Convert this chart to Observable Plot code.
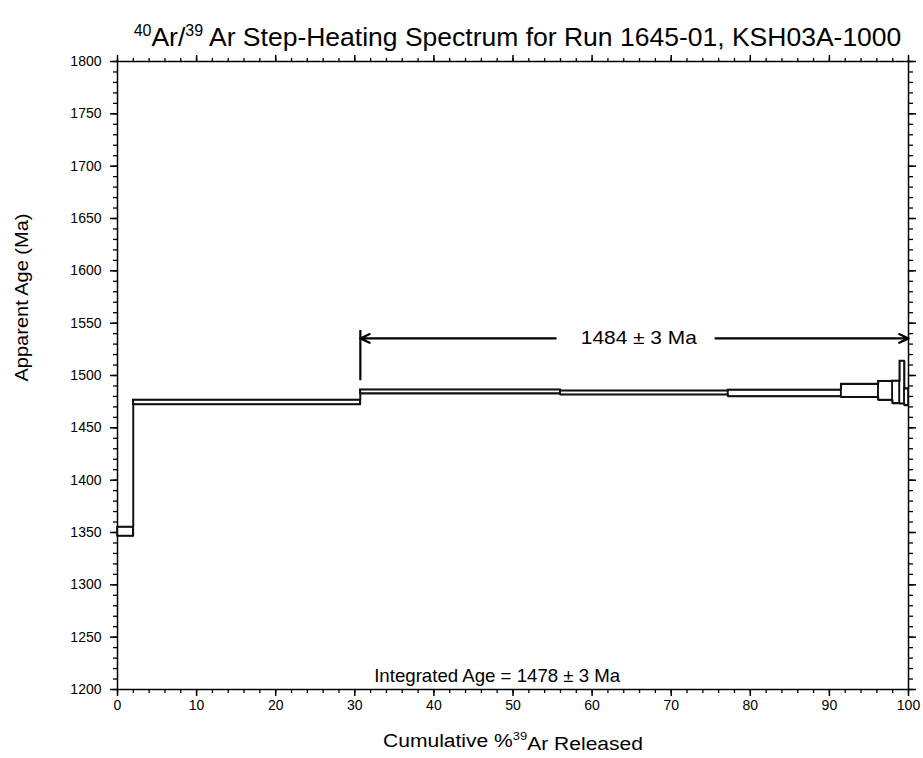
<!DOCTYPE html>
<html>
<head>
<meta charset="utf-8">
<script src="https://cdn.jsdelivr.net/npm/d3@7"></script>
<script src="https://cdn.jsdelivr.net/npm/@observablehq/plot@0.6"></script>
<style>
  html, body { margin: 0; padding: 0; background: #fff; }
  #wrap { width: 923px; height: 758px; overflow: hidden; font-family: "Liberation Sans", Arial, sans-serif; }
  #title { height: 50px; box-sizing: border-box; padding-top: 23px; margin-left: 122px; width: 791px;
           text-align: center; font-size: 26.5px; line-height: 28px; color: #000; white-space: nowrap; }
  #title sup { font-size: 16px; vertical-align: 10px; line-height: 0; }
</style>
</head>
<body>
<div id="wrap">
  <div id="title"><sup>40</sup>Ar/<sup>39</sup> Ar Step-Heating Spectrum for Run 1645-01, KSH03A-1000</div>
  <div id="chart"></div>
</div>
<script>
// Step boundaries (cumulative % 39Ar released)
const cumulativeBounds = [0, 2.0, 30.7, 56.0, 77.2, 91.5, 96.2, 98.0, 98.9, 99.5, 100];
// Upper and lower apparent ages of each step (Ma)
const ageUpper = [1355.2, 1476.6, 1486.4, 1485.4, 1486.2, 1491.8, 1494.5, 1494.8, 1513.8, 1487.5];
const ageLower = [1346.6, 1472.3, 1482.7, 1481.6, 1480.0, 1479.2, 1476.5, 1473.4, 1473.0, 1471.5];

// Plateau marker
const plateauStart = [30.7];
const plateauEnd = [100];
const plateauLevel = [1535.4];
const plateauBar = [1495, 1543];
const plateauGap = [55.4, 75.6];
const plateauLabel = ["1484 ± 3 Ma"];
const plateauLabelX = [65.9];

// Integrated age
const integratedLabel = ["Integrated Age = 1478 ± 3 Ma"];
const integratedX = [48.0];
const integratedY = [1213];

// Axes
const xMajorTicks = [0, 10, 20, 30, 40, 50, 60, 70, 80, 90, 100];
const xMinorTicks = d3.range(0, 101, 2);
const yMajorTicks = [1200, 1250, 1300, 1350, 1400, 1450, 1500, 1550, 1600, 1650, 1700, 1750, 1800];
const yMinorTicks = d3.range(1200, 1801, 10);
const xDomain = [0, 100];
const yDomain = [1200, 1800];
const xLabelParts = ["Cumulative %", "39", "Ar Released"];
const xLabel = [xLabelParts.join("")];
const yLabel = ["Apparent Age (Ma)"];

const n = ageUpper.length;
const upperLine = cumulativeBounds.map((x, i) => ({x, y: ageUpper[Math.min(i, n - 1)]}));
const lowerLine = cumulativeBounds.map((x, i) => ({x, y: ageLower[Math.min(i, n - 1)]}));
const stepBoxes = ageUpper.map((u, i) => ({x1: cumulativeBounds[i], x2: cumulativeBounds[i + 1], y1: ageLower[i], y2: u}));

const arrows = [
  {x1: plateauGap[0], x2: plateauStart[0], y: plateauLevel[0]},
  {x1: plateauGap[1], x2: plateauEnd[0], y: plateauLevel[0]}
];

const blank = () => "";
const chart = Plot.plot({
  width: 923,
  height: 708,
  marginLeft: 117,
  marginRight: 15,
  marginTop: 11,
  marginBottom: 69,
  style: {fontFamily: "'Liberation Sans', Arial, sans-serif", color: "#000", background: "#fff"},
  x: {domain: xDomain},
  y: {domain: yDomain},
  marks: [
    Plot.frame({stroke: "#000", strokeWidth: 1.5}),
    // bottom axis
    Plot.axisX({anchor: "bottom", ticks: xMajorTicks, tickSize: 7, tickPadding: 4, fontSize: 14,
      tickFormat: d => String(d), label: null, strokeWidth: 1.5}),
    Plot.axisX({anchor: "bottom", ticks: xMinorTicks, tickSize: 4, tickFormat: blank, label: null, strokeWidth: 1.3}),
    // top axis
    Plot.axisX({anchor: "top", ticks: xMajorTicks, tickSize: 7, tickFormat: blank, label: null, strokeWidth: 1.5}),
    Plot.axisX({anchor: "top", ticks: xMinorTicks, tickSize: 4, tickFormat: blank, label: null, strokeWidth: 1.3}),
    // left axis
    Plot.axisY({anchor: "left", ticks: yMajorTicks, tickSize: 7, tickPadding: 9, fontSize: 14,
      tickFormat: d => String(d), label: null, strokeWidth: 1.5}),
    Plot.axisY({anchor: "left", ticks: yMinorTicks, tickSize: 4, tickFormat: blank, label: null, strokeWidth: 1.3}),
    // right axis
    Plot.axisY({anchor: "right", ticks: yMajorTicks, tickSize: 7, tickFormat: blank, label: null, strokeWidth: 1.5}),
    Plot.axisY({anchor: "right", ticks: yMinorTicks, tickSize: 4, tickFormat: blank, label: null, strokeWidth: 1.3}),
    // axis titles
    Plot.text(xLabel, {frameAnchor: "bottom", dy: 57, text: d => d, fontSize: 18, fill: "#000"}),
    Plot.text(yLabel, {frameAnchor: "left", dx: -95, dy: 6, rotate: -90, text: d => d, fontSize: 18, fill: "#000"}),
    // age spectrum: step boxes and connecting envelopes
    Plot.rect(stepBoxes, {x1: "x1", x2: "x2", y1: "y1", y2: "y2", fill: "none", stroke: "#111", strokeWidth: 1.6}),
    Plot.line(upperLine, {x: "x", y: "y", curve: "step-after", stroke: "#111", strokeWidth: 1.6}),
    Plot.line(lowerLine, {x: "x", y: "y", curve: "step-after", stroke: "#111", strokeWidth: 1.6}),
    // plateau marker
    Plot.ruleX(plateauStart, {x: d => d, y1: plateauBar[0], y2: plateauBar[1], stroke: "#000", strokeWidth: 2.2}),
    Plot.arrow(arrows, {x1: "x1", x2: "x2", y1: "y", y2: "y", stroke: "#000", strokeWidth: 2.2, headLength: 7, headAngle: 50}),
    Plot.text(plateauLabel, {x: plateauLabelX, y: plateauLevel, text: d => d, fontSize: 18.5, fill: "#000"}),
    Plot.text(integratedLabel, {x: integratedX, y: integratedY, text: d => d, fontSize: 18.5, fill: "#000"})
  ]
});

// fit the wider lettering of the original to its measured extents
const textWidths = new Map([
  [xLabel[0], 260], [yLabel[0], 168], [plateauLabel[0], 116], [integratedLabel[0], 246]
]);
d3.select(chart).selectAll("text").each(function () {
  const content = this.textContent;
  const w = textWidths.get(content);
  if (w) d3.select(this).attr("textLength", w).attr("lengthAdjust", "spacingAndGlyphs");
  if (content === xLabel[0]) {
    // superscript mass number, as in the original
    const t = d3.select(this);
    t.text(null);
    t.append("tspan").text(xLabelParts[0]);
    t.append("tspan").attr("font-size", 11).attr("dy", "-0.55em").text(xLabelParts[1]);
    t.append("tspan").attr("dy", "0.55em").text(xLabelParts[2]);
  }
});
document.getElementById("chart").appendChild(chart);
</script>
</body>
</html>
